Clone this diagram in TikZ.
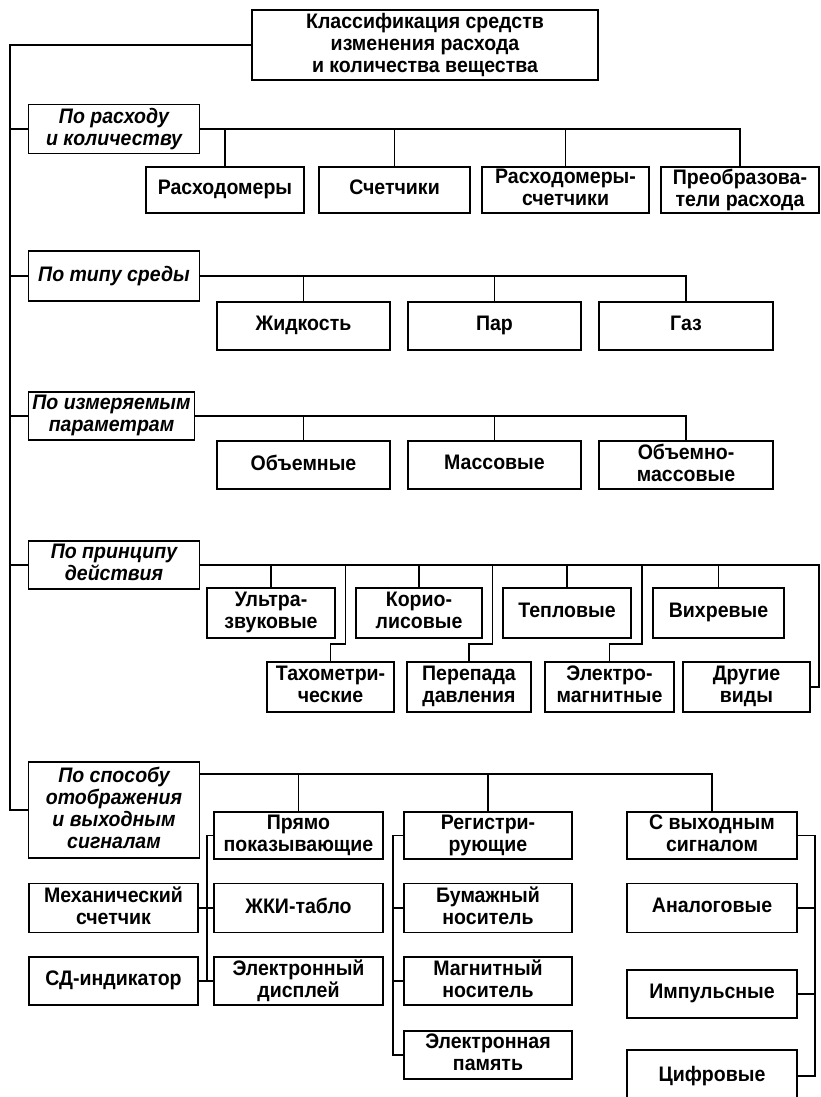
\documentclass[tikz,border=0pt]{standalone}
\usepackage{fontspec}
\setmainfont{Liberation Sans}[FakeStretch=0.93]
\usetikzlibrary{calc}

\tikzset{
  box/.style={draw,align=center,inner sep=0pt,text depth=5pt,
    font=\bfseries\fontsize{21}{22}\selectfont},
  cat/.style={box,font=\bfseries\itshape\fontsize{21}{22}\selectfont},
  sz/.style 2 args={minimum width=#1pt,minimum height=#2pt}
}

\begin{document}
\begin{tikzpicture}[x=1pt,y=-1pt,line width=1.8pt]
        \useasboundingbox (0,0) rectangle (821,1097) ;
        %\draw[very thin,gray,step=50] (0,0) grid (821,1097) ;
        \node[box,sz={346}{70}] (top) at (425,45)
        {Классификация средств\\изменения расхода\\и количества вещества} ;

        % categories
        \node[cat,sz={171}{49}] (cat1) at (114,129) {По расходу\\и количеству} ;
        \node[cat,sz={171}{50}] (cat2) at (114,276) {По типу среды} ;
        \node[cat,sz={166}{48}] (cat3) at (111.5,416) {По измеряемым\\параметрам} ;
        \node[cat,sz={171}{48}] (cat4) at (114,565) {По принципу\\действия} ;
        \node[cat,sz={171}{96}] (cat5) at (114,810) {По способу\\отображения\\и выходным\\сигналам} ;

        % po raskhodu
        \node[box,sz={158}{46}] (r1) at (225,190) {Расходомеры} ;
        \node[box,sz={151}{46}] (r2) at (394.5,190) {Счетчики} ;
        \node[box,sz={167}{46}] (r3) at (565.5,190) {Расходомеры-\\счетчики} ;
        \node[box,sz={158}{46}] (r4) at (740,190) {Преобразова-\\тели расхода} ;

        % po tipu sredy
        \node[box,sz={173}{48}] (t1) at (303.5,326) {Жидкость} ;
        \node[box,sz={173}{48}] (t2) at (494.5,326) {Пар} ;
        \node[box,sz={174}{48}] (t3) at (686,326) {Газ} ;

        % po parametram
        \node[box,sz={173}{48}] (p1) at (303.5,465) {Объемные} ;
        \node[box,sz={173}{48}] (p2) at (494.5,465) {Массовые} ;
        \node[box,sz={174}{48}] (p3) at (686,465) {Объемно-\\массовые} ;

        % po printsipu
        \node[box,sz={128}{50}] (u1) at (271,613) {Ультра-\\звуковые} ;
        \node[box,sz={126}{50}] (u2) at (419,613) {Корио-\\лисовые} ;
        \node[box,sz={128}{50}] (u3) at (567,613) {Тепловые} ;
        \node[box,sz={131}{50}] (u4) at (718.5,613) {Вихревые} ;
        \node[box,sz={127}{50}] (l1) at (330.5,687) {Тахометри-\\ческие} ;
        \node[box,sz={124}{50}] (l2) at (469,687) {Перепада\\давления} ;
        \node[box,sz={129}{50}] (l3) at (609.5,687) {Электро-\\магнитные} ;
        \node[box,sz={127}{50}] (l4) at (746.5,687) {Другие\\виды} ;

        % po sposobu
        \node[box,sz={169}{47}] (s1) at (298.5,835.5) {Прямо\\показывающие} ;
        \node[box,sz={168}{47}] (s2) at (488,835.5) {Регистри-\\рующие} ;
        \node[box,sz={170}{47}] (s3) at (712,835.5) {С выходным\\сигналом} ;
        \node[box,sz={169}{49}] (a2) at (298.5,908) {ЖКИ-табло} ;
        \node[box,sz={169}{48}] (a3) at (298.5,981) {Электронный\\дисплей} ;
        \node[box,sz={169}{49}] (m1) at (113.5,908) {Механический\\счетчик} ;
        \node[box,sz={169}{48}] (m2) at (113.5,981) {СД-индикатор} ;
        \node[box,sz={168}{49}] (g2) at (488,908) {Бумажный\\носитель} ;
        \node[box,sz={168}{48}] (g3) at (488,981) {Магнитный\\носитель} ;
        \node[box,sz={168}{48}] (g4) at (488,1055) {Электронная\\память} ;
        \node[box,sz={170}{49}] (d2) at (712,908) {Аналоговые} ;
        \node[box,sz={170}{48}] (d3) at (712,994) {Импульсные} ;
        \node[box,sz={170}{52}] (d4) at (712,1076) {Цифровые} ;

        % trunk
        \coordinate (trunk) at (10,0) ;
        \draw (top.west) -| (trunk |- cat5.west) -- (cat5.west) ;
        \foreach \c in {cat1,cat2,cat3,cat4}
          \draw (trunk |- \c.west) -- (\c.west) ;

        \draw (cat1.east) -| (r4.north) ;
        \foreach \n in {r1,r2,r3} \draw (\n.north) -- (\n.north |- cat1.east) ;
        \draw (cat2.east) -| (t3.north) ;
        \foreach \n in {t1,t2} \draw (\n.north) -- (\n.north |- cat2.east) ;
        \draw (cat3.east) -| (p3.north) ;
        \foreach \n in {p1,p2} \draw (\n.north) -- (\n.north |- cat3.east) ;

        \coordinate (j4) at (819,565) ;
        \draw (cat4.east) -- (j4) |- (l4.east) ;
        \foreach \n in {u1,u2,u3,u4} \draw (\n.north) -- (\n.north |- cat4.east) ;
        \coordinate (j1) at ($(u1.east)!.5!(u2.west)$) ;
        \coordinate (j2) at ($(u2.east)!.5!(u3.west)$) ;
        \coordinate (j3) at ($(u3.east)!.5!(u4.west)$) ;
        \draw (l1.north) -- ++(0,-17) -| (j1 |- cat4.east) ;
        \draw (l2.north) -- ++(0,-17) -| (j2 |- cat4.east) ;
        \draw (l3.north) -- ++(0,-17) -| (j3 |- cat4.east) ;

        \coordinate (c5) at ([yshift=-13pt]cat5.north east) ;
        \draw (c5) -| (s3.north) ;
        \foreach \n in {s1,s2} \draw (\n.north) -- (\n.north |- c5) ;

        \coordinate (b1) at (207,0) ;
        \draw (s1.west) -- (s1.west -| b1) -- (a3.west -| b1) ;
        \draw (m1.east) -- (a2.west) ;
        \draw (m2.east) -- (a3.west) ;
        \draw (s2.west) -- ++(-10,0) |- (g4.west) ;
        \foreach \n in {g2,g3} \draw (\n.west) -- ++(-10,0) ;
        \draw (s3.east) -- ++(17,0) |- (d4.east) ;
        \foreach \n in {d2,d3} \draw (\n.east) -- ++(17,0) ;
      \end{tikzpicture}
\end{document}
